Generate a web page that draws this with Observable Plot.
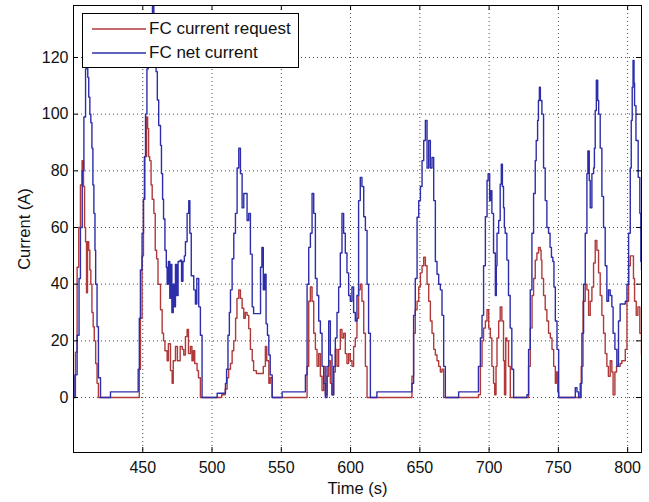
<!DOCTYPE html>
<html>
<head>
<meta charset="utf-8">
<script src="https://cdn.jsdelivr.net/npm/d3@7"></script>
<script src="https://cdn.jsdelivr.net/npm/@observablehq/plot@0.6"></script>
<style>
  html, body { margin: 0; padding: 0; background: #fff; }
  #wrap { position: relative; width: 649px; height: 502px; font-family: Arial, "Liberation Sans", sans-serif; }
  #legend { position: absolute; left: 82px; top: 13px; width: 217px; height: 55px; box-sizing: border-box;
            border: 1px solid #000; background: #fff; }
  #legend .row { position: absolute; left: 0; height: 20px; width: 100%; }
  #legend .row svg { position: absolute; left: 9px; top: 0; }
  #legend .row span { position: absolute; left: 66px; top: 0; line-height: 20px; font-size: 17px; color: #111; white-space: nowrap; }
</style>
</head>
<body>
<div id="wrap">
  <div id="chart"></div>
  <div id="legend">
    <div class="row" style="top:5px"><svg width="54" height="20"><line x1="0" x2="54" y1="10" y2="10" stroke="#b03a3a" stroke-width="1.4"/></svg><span>FC current request</span></div>
    <div class="row" style="top:29px"><svg width="54" height="20"><line x1="0" x2="54" y1="10" y2="10" stroke="#2e2eaa" stroke-width="1.4"/></svg><span>FC net current</span></div>
  </div>
</div>
<script>
// FC current request (red)
const requestTime = [
  400,401.4,402.6,403.8,405,406.2,407.2,408,408.7,409.4,410.1,411,411.8,412.5,413.3,414.2,415,416,417,418,
  446.7,447.5,448.3,449.5,450.5,451.5,452.7,453.5,454.2,455,456,456.8,458,459,460,461,462.8,464,465,466,467.6,468.5,470,471.2,472,473.6,475,477,478.5,479.6,480.8,482,483,484.4,485.5,486.5,487.5,489.2,490.2,491.6,
  503.7,507,509.5,510.9,512,513.3,514.5,515.7,517,518,519.3,520.5,521.7,522.9,524,525.3,526.5,527.7,529,530,532,536,537,538.5,539.5,541,542,543.4,
  567.4,568.6,569.8,571,572.2,573.4,574.6,575.8,577,578.2,579.4,580.6,581.8,583,584.2,585.4,586.6,587.8,589,590.2,591.4,592.6,593.8,595,596.2,597.4,598.6,599.8,601,602.2,603.4,604.6,605.8,607,608.2,609.5,610.7,611.9,
  644.3,645.5,646.7,648,649.2,650.4,651.6,652.8,654,655.2,656.4,657.6,658.8,660,661.2,662.4,663.6,664.8,666,667.2,
  692.3,693.7,694.9,696,697.3,698.5,699.7,700.9,702,703.2,704,705,705.7,706.9,708,709.2,710.4,711.1,712,712.8,714,715.3,
  727.3,728.5,729.7,731,732.1,733.3,734.5,735.7,736.9,737.5,738.1,739.3,740.5,741.7,742.9,744.2,745.4,746.6,747.8,748.5,749.5,750.2,
  765.8,766.5,767.8,769.4,770.6,771.8,773,774.2,775.4,776.6,777.8,779,780.2,781.4,782.6,783.8,785,786.1,787.4,788.6,789.5,790.8,792,793.4,794.6,795.8,798.3,799.5,800.7,801.9,803.5,804.2,805,806.2,807.4,808.8,810
];
const requestCurrent = [
  0,16,46,60,75,83.6,74.5,60,55,37,55,52,45,40,30,25,20,12,5,0,
  0,10,28,50,70,85,99,95,85,83.6,75,70,65,52,49,40,31,22.7,20,16.5,13,19,9.5,5,13,18,13,18,17,15,21.5,24,15.5,18,13,16.5,12,9.5,7,0,
  0,1,3,7,10,12,16.5,20,28,35,38,35,31.5,28,30,29,24.3,17,13,9.5,8.5,8.5,11,18,13,5,7,0,
  0,11,34,39,34,22.7,17,11,15.5,7.5,2.5,11,1,7.5,13,5,1,9,17,11,17,24,21,22.7,15.5,12,15.5,13,11,18,21,28,38,40,34,22.7,11,0,
  7.5,22.7,31,34,39,44,46.5,49.5,46.5,40,34,27,22.7,17,15,13,11,9,10,0,
  1,11,20,24.5,27,31,24.5,21,11,5,1,11,21,27,32,27,13,1,21,20,11,0,
  0,11,24.5,36,42,48.5,51,53,52,48.5,42,36,31,27,22.7,21,17,11,5,9,2,0,
  0,11,34,40,38,29,34,39,47.5,55.4,52,44,36,29,22.7,15.5,11,7.5,13,9,1,9,11,11,12,13,17,34,46.5,50,50,42,34,29,32,22.7,15
];

// FC net current (blue)
const netTime = [
  400,401,402.6,404,405,406.3,407.5,408.7,409.5,410.3,411,411.8,412.5,413.3,414,414.7,415.5,416,417,418,419.5,426.7,
  446.7,447.5,448.3,449.5,450.5,451.2,452,453,454,455,456,457,458,459.6,460.5,461.5,462.8,463.5,464.3,465,466,467,467.6,468.5,469.5,470.3,471,472,473,473.6,474.5,475.5,477,478,479,480,480.8,482,483.2,484,485,486.8,488,489,490.4,491.6,492.8,
  503.7,509.7,510.5,511.5,512.5,513.3,514.5,515.7,516.9,518.1,519.3,520.5,521.7,522.9,524,525.3,526.5,527.7,529,530,533.5,535,536,537,538,539,540,541,542,543.4,550.6,
  567.4,568.6,569.8,571,572.2,573.4,574.6,575.8,577,578.2,579.4,580.6,581.8,583,584.2,585.4,586.6,587.8,589,590.2,591.4,592.6,593.8,595,596.2,597.4,598.6,599.8,601,602.2,603.4,604.6,605.8,607,608.2,609.5,610.7,611.9,613,614.3,619,
  644.3,645.5,646.7,648,649.2,650.4,651.6,652.8,654,655.2,656.4,657.6,658.8,660,661.2,662.4,663.6,664.8,666,667.2,668.4,678,
  692.3,693.7,694.9,696,697.3,698.5,699.3,700.4,701.2,702,703.2,704.5,705.2,705.7,706.9,708,708.8,709.6,710.4,711,711.6,712.8,714,715.2,716.4,717.7,
  727.3,728.5,729.7,730.9,732.1,733.3,734,735,735.6,736.3,737,738.1,739.3,740.5,741.7,742.9,744,745,746,746.8,747.8,749,750.2,762.2,763.4,764.6,
  765.8,767,768.2,769.4,770.6,771.3,772.3,773,774.2,775.4,776,776.6,777.4,778.4,779.1,780.2,781.4,782.6,783.8,785,786.2,787.4,788.6,789.5,790.8,792.2,793.4,794.6,797,798.3,799.5,800.7,801.9,802.6,803.3,803.9,804.6,805,806,807.6,808.8,809.5,810
];
const netCurrent = [
  0,8,22,42,60,80,99,116,118,113,106,100,97,88,75,65,52,40,25,7,0,2,
  10,28,45,58,70,85,100,116,117,118,117,142,118,115,105,96,89,79,70,63,52,46,40,48,35,47,30,40,32,47,36,48,48.5,41,48,50,55,65,69.5,58,43,38,33,42,32,22,0,
  1.5,5,10,22,30,38,49,58,65,81,88,79,67,72,72,62.5,65,50.6,32,29.6,29.6,46,53,38,43.5,26,22,15,8,0,2,
  8,40,53,58,72,65,42,36,27,22.7,11,5,0,11,27,15,1,11,21,30,39,51,65,58,51,44,36,34,39,30,27,36,69.5,77.7,74.5,63.8,59,40,22.7,0,2,
  5,29,42,63.6,69.5,74.5,83.6,90.7,97.8,81,90.7,81,84.7,69.5,48,43.5,40,38,29,11,0,2,
  11,21,29,46.5,63.8,76.6,79,69.5,73,65,51,36,46.5,58,62.5,75.3,82.3,74.5,67,60,58,48.5,36,24.5,10,0,
  1,17,38,58,72,83.6,90.7,97.8,104.8,109.5,104.8,100,81,69.5,60,58,53,49.5,48,39,27,17,0,3.5,2,0,
  5,22.7,40,58,79,87,76.6,67,79,81,88,101.3,112,104.8,100,88,71,60,46.5,34,38,36,32,22.7,17,11,27,33,33,34,40,58,81,97.8,109.5,119,111,103,90.7,77.7,65,48,45
];

// Axis ticks
const xTicks = [450, 500, 550, 600, 650, 700, 750, 800];
const yTicks = [0, 20, 40, 60, 80, 100, 120];

const request = requestTime.map((t, i) => ({t, a: requestCurrent[i]}));
const net = netTime.map((t, i) => ({t, a: netCurrent[i]}));

const RED = "#b03a3a", BLUE = "#2e2eaa";
const mT = 5, mB = 50, mL = 73, mR = 8, W = 649, H = 502;
const fh = H - mT - mB, fw = W - mL - mR;

const chart = Plot.plot({
  width: W, height: H,
  marginTop: mT, marginBottom: mB, marginLeft: mL, marginRight: mR,
  style: {fontFamily: "Arial, 'Liberation Sans', sans-serif", fontSize: "16px", background: "#fff", color: "#111", overflow: "visible"},
  x: {domain: [400, 810], ticks: xTicks, tickSize: 0, tickPadding: 9, label: null, tickFormat: d => String(d)},
  y: {domain: [-19.4, 138.35], ticks: yTicks, tickSize: 0, tickPadding: 5, label: null, tickFormat: d => String(d)},
  marks: [
    Plot.ruleX(xTicks, {x: d => d, stroke: "#222", strokeDasharray: "1,3", strokeOpacity: 0.8}),
    Plot.ruleY(yTicks, {y: d => d, stroke: "#222", strokeDasharray: "1,3", strokeOpacity: 0.8}),
    Plot.line(request, {x: "t", y: "a", curve: "step-after", stroke: RED, strokeWidth: 1.4, clip: true}),
    Plot.line(net, {x: "t", y: "a", curve: "step-after", stroke: BLUE, strokeWidth: 1.4, clip: true}),
    Plot.tickX(xTicks, {x: d => d, insetTop: fh - 5, stroke: "#000"}),
    Plot.tickX(xTicks, {x: d => d, insetBottom: fh - 5, stroke: "#000"}),
    Plot.tickY(yTicks, {y: d => d, insetRight: fw - 5, stroke: "#000"}),
    Plot.tickY(yTicks, {y: d => d, insetLeft: fw - 5, stroke: "#000"}),
    Plot.frame({stroke: "#000"}),
    Plot.text(["Time (s)"], {text: d => d, frameAnchor: "bottom", dy: 36, textAnchor: "middle", lineAnchor: "middle", fontSize: 16.5, fill: "#111"}),
    Plot.text(["Current (A)"], {text: d => d, frameAnchor: "left", dx: -49, rotate: -90, textAnchor: "middle", lineAnchor: "middle", fontSize: 16.5, fill: "#111"})
  ]
});
document.getElementById("chart").appendChild(chart);
</script>
</body>
</html>
